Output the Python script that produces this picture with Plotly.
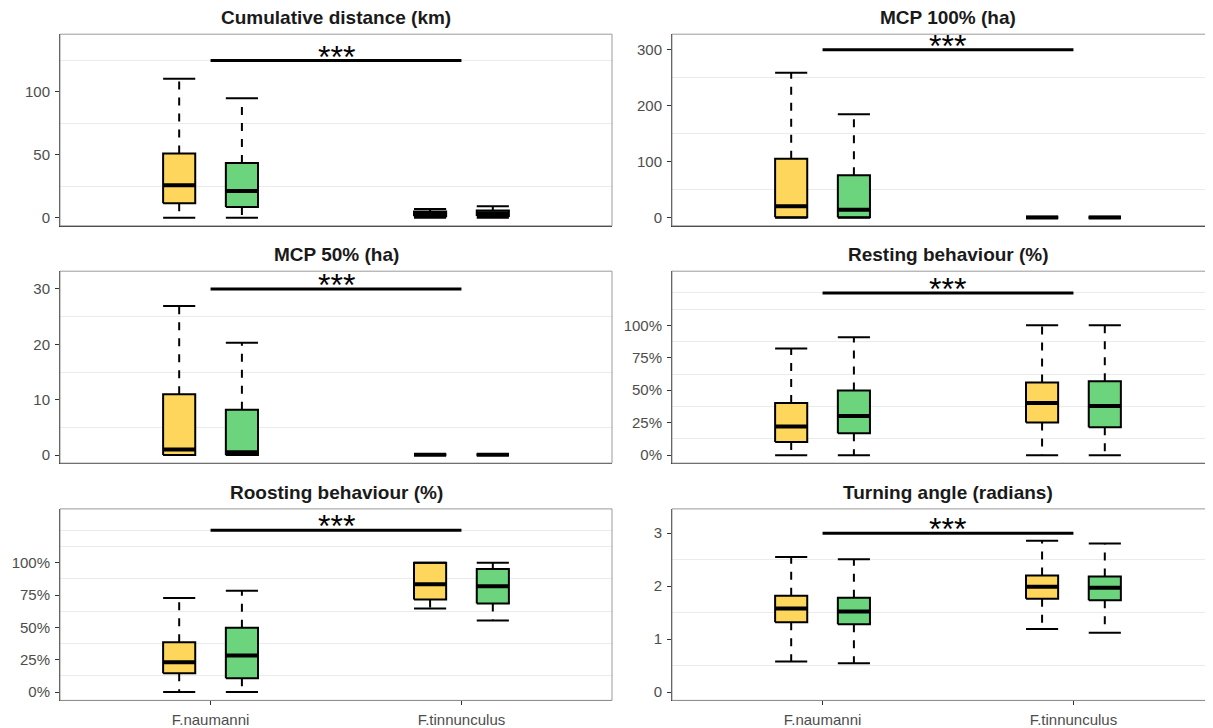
import plotly.graph_objects as go

# ---------------- data ----------------
species = ["F.naumanni", "F.tinnunculus"]
panel_titles = ["Cumulative distance (km)", "MCP 100% (ha)", "MCP 50% (ha)",
                "Resting behaviour (%)", "Roosting behaviour (%)", "Turning angle (radians)"]
group_names = ["Group 1", "Group 2"]
group_colors = ["#FFD65C", "#6DD47E"]

# five-number summaries: values per species [F.naumanni, F.tinnunculus]
cumdist_g1 = {"lower": [0, 0], "q1": [11.6, 1.2], "median": [25.9, 3.0], "q3": [51.2, 5.0], "upper": [110.5, 7.0]}
cumdist_g2 = {"lower": [0, 0], "q1": [8.7, 1.5], "median": [21.4, 3.7], "q3": [43.5, 5.8], "upper": [95.0, 9.2]}

mcp100_g1 = {"lower": [0, 0], "q1": [1.0, 0.2], "median": [20.8, 0.5], "q3": [105.4, 1.0], "upper": [259.0, 2.0]}
mcp100_g2 = {"lower": [0, 0], "q1": [1.2, 0.2], "median": [14.3, 0.5], "q3": [76.2, 1.0], "upper": [185.0, 2.0]}

mcp50_g1 = {"lower": [0, 0], "q1": [0.0, 0.02], "median": [1.0, 0.05], "q3": [11.0, 0.1], "upper": [26.9, 0.2]}
mcp50_g2 = {"lower": [0, 0], "q1": [0.0, 0.02], "median": [0.5, 0.05], "q3": [8.2, 0.1], "upper": [20.3, 0.2]}

resting_g1 = {"lower": [0, 0], "q1": [0.102, 0.251], "median": [0.22, 0.402], "q3": [0.402, 0.56], "upper": [0.821, 1.0]}
resting_g2 = {"lower": [0, 0], "q1": [0.169, 0.215], "median": [0.302, 0.379], "q3": [0.499, 0.57], "upper": [0.908, 1.0]}

roosting_g1 = {"lower": [0, 0.646], "q1": [0.146, 0.715], "median": [0.231, 0.833], "q3": [0.385, 1.0], "upper": [0.726, 1.0]}
roosting_g2 = {"lower": [0, 0.554], "q1": [0.108, 0.685], "median": [0.282, 0.818], "q3": [0.497, 0.951], "upper": [0.782, 1.0]}

turning_g1 = {"lower": [0.576, 1.19], "q1": [1.32, 1.76], "median": [1.58, 1.99], "q3": [1.82, 2.20], "upper": [2.55, 2.856]}
turning_g2 = {"lower": [0.545, 1.12], "q1": [1.28, 1.735], "median": [1.52, 1.97], "q3": [1.78, 2.18], "upper": [2.51, 2.806]}

panel_data = [(cumdist_g1, cumdist_g2), (mcp100_g1, mcp100_g2), (mcp50_g1, mcp50_g2),
              (resting_g1, resting_g2), (roosting_g1, roosting_g2), (turning_g1, turning_g2)]

sig_height = [125, 300, 30, 1.25, 1.25, 3.0]
sig_label = "***"

y_tickvals = [[0, 50, 100], [0, 100, 200, 300], [0, 10, 20, 30],
              [0, 0.25, 0.5, 0.75, 1.0], [0, 0.25, 0.5, 0.75, 1.0], [0, 1, 2, 3]]
y_ticktext = [["0", "50", "100"], ["0", "100", "200", "300"], ["0", "10", "20", "30"],
              ["0%", "25%", "50%", "75%", "100%"], ["0%", "25%", "50%", "75%", "100%"], ["0", "1", "2", "3"]]
y_minor = [[25, 75, 125], [50, 150, 250], [5, 15, 25],
           [0.125, 0.375, 0.625, 0.875, 1.125, 1.25], [0.125, 0.375, 0.625, 0.875, 1.125, 1.25],
           [0.5, 1.5, 2.5]]
y_ranges = [[-6.3, 145.9], [-14.2, 328], [-1.44, 33.2], [-0.0614, 1.4175], [-0.064, 1.415], [-0.156, 3.458]]

# ---------------- layout geometry ----------------
# the page body adds an 8px margin, so the figure is drawn 8px smaller
W, H = 1205, 720
col_x = [(52 / W, 604 / W), (664 / W, 1.0)]
col_center = [328 / W, 940 / W]
x_ranges = [[0.4, 2.6], [0.4, 0.4 + 541 / 250.9]]
row_y = [(1 - 218.7 / H, 1 - 26.3 / H), (1 - 457 / H, 1 - 264.3 / H), (1 - 695.3 / H, 1 - 503 / H)]

dodge = [-0.125, 0.125]
half_w = 0.064

FONT = "Liberation Sans, Arial, sans-serif"

fig = go.Figure()
layout = dict(width=W, height=H, margin=dict(l=0, r=0, t=0, b=0),
              paper_bgcolor="white", plot_bgcolor="white", showlegend=False,
              font=dict(family=FONT))
annotations = []
shapes = []

for p in range(6):
    row, col = p // 2, p % 2
    n = p + 1
    xa = "x" if n == 1 else f"x{n}"
    ya = "y" if n == 1 else f"y{n}"
    for g, stats in enumerate(panel_data[p]):
        bx, by, mx, my, wx, wy, cx, cy = [], [], [], [], [], [], [], []
        for j in range(len(species)):
            xc = j + 1 + dodge[g]
            lo, q1, md, q3, up = (stats["lower"][j], stats["q1"][j], stats["median"][j],
                                  stats["q3"][j], stats["upper"][j])
            bx += [xc - half_w, xc + half_w, xc + half_w, xc - half_w, xc - half_w, None]
            by += [q1, q1, q3, q3, q1, None]
            mx += [xc - half_w, xc + half_w, None]
            my += [md, md, None]
            wx += [xc, xc, None, xc, xc, None]
            wy += [q3, up, None, q1, lo, None]
            cx += [xc - half_w, xc + half_w, None, xc - half_w, xc + half_w, None]
            cy += [up, up, None, lo, lo, None]
        fig.add_trace(go.Scatter(x=wx, y=wy, mode="lines", xaxis=xa, yaxis=ya,
                                 line=dict(color="black", width=2, dash="8px,8px"),
                                 hoverinfo="skip", name=group_names[g]))
        fig.add_trace(go.Scatter(x=bx, y=by, mode="lines", fill="toself", fillcolor=group_colors[g],
                                 xaxis=xa, yaxis=ya, line=dict(color="black", width=2),
                                 name=group_names[g]))
        fig.add_trace(go.Scatter(x=mx, y=my, mode="lines", xaxis=xa, yaxis=ya,
                                 line=dict(color="black", width=4), name=group_names[g],
                                 hoverinfo="skip"))
        fig.add_trace(go.Scatter(x=cx, y=cy, mode="lines", xaxis=xa, yaxis=ya,
                                 line=dict(color="black", width=2), name=group_names[g],
                                 hoverinfo="skip"))
    # significance bar
    fig.add_trace(go.Scatter(x=[1, 2], y=[sig_height[p]] * 2, mode="lines", xaxis=xa, yaxis=ya,
                             line=dict(color="black", width=3), hoverinfo="skip"))
    annotations.append(dict(x=1.5, y=sig_height[p], xref=xa, yref=ya, text=sig_label,
                            showarrow=False, xanchor="center", yanchor="bottom", yshift=-16,
                            font=dict(size=32, color="black", family=FONT)))

    bottom = row == 2
    layout["xaxis" if n == 1 else f"xaxis{n}"] = dict(
        domain=list(col_x[col]), range=x_ranges[col], anchor=ya,
        tickmode="array", tickvals=[1, 2], ticktext=species,
        showticklabels=bottom, ticks="outside" if bottom else "", ticklen=4, tickcolor="#333333",
        tickfont=dict(size=15, color="#4d4d4d"), ticklabelstandoff=2,
        showgrid=False, zeroline=False, showline=True, linecolor="#333333", linewidth=1)
    layout["yaxis" if n == 1 else f"yaxis{n}"] = dict(
        domain=list(row_y[row]), range=y_ranges[p], anchor=xa,
        tickmode="array", tickvals=y_tickvals[p], ticktext=y_ticktext[p],
        ticks="outside", ticklen=4, tickcolor="#333333",
        tickfont=dict(size=15, color="#4d4d4d"), ticklabelstandoff=2,
        showgrid=False, zeroline=False, showline=True, linecolor="#333333", linewidth=1,
        minor=dict(tickmode="array", tickvals=y_minor[p], showgrid=True,
                   gridcolor="#ebebeb", gridwidth=1, ticks=""))
    shapes.append(dict(type="rect", xref=f"{xa} domain", yref=f"{ya} domain",
                       x0=0, x1=1 if col == 0 else 1.03, y0=0, y1=1,
                       line=dict(color="#9a9a9a", width=1), layer="above"))
    annotations.append(dict(x=col_center[col], y=row_y[row][1], xref="paper", yref="paper",
                            text=f"<b>{panel_titles[p]}</b>", showarrow=False,
                            xanchor="center", yanchor="bottom", yshift=4,
                            font=dict(size=19, color="#1a1a1a", family=FONT)))

layout["annotations"] = annotations
layout["shapes"] = shapes
fig.update_layout(**layout)
fig.write_html("out.html")
